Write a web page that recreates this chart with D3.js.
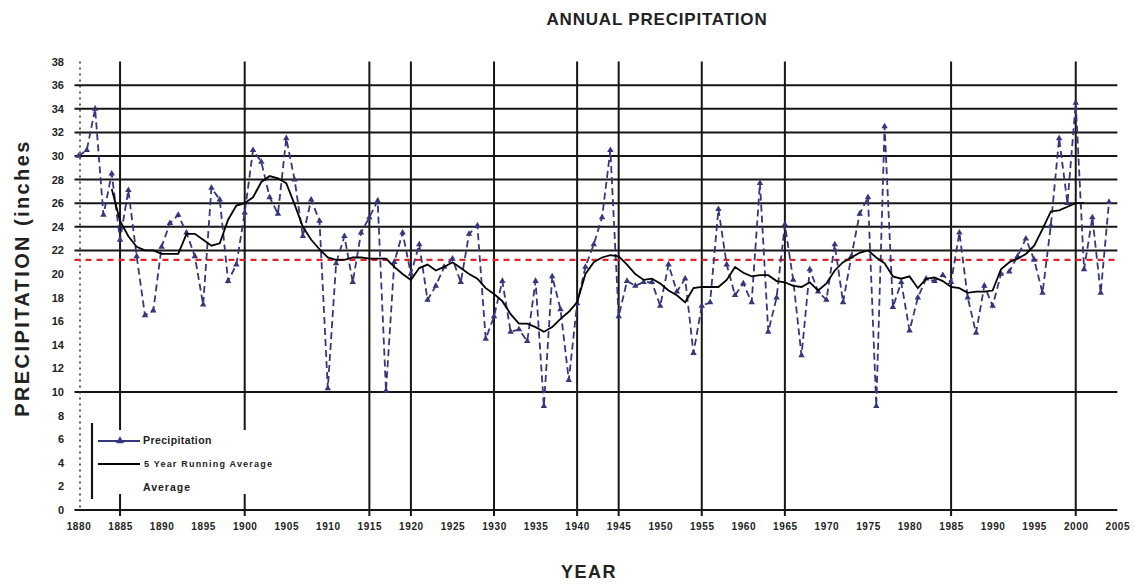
<!DOCTYPE html>
<html>
<head>
<meta charset="utf-8">
<script src="https://cdn.jsdelivr.net/npm/d3@7"></script>
<style>
  body { margin: 0; background: #fff; }
  svg { display: block; }
  text { font-family: "Liberation Sans", Arial, sans-serif; }
</style>
</head>
<body>
<svg id="chart" width="1135" height="584"></svg>
<script>
// Annual precipitation, inches, one value per year starting in 1880
const firstYear = 1880;
const precipitation = [
  30.0, 30.5, 34.0, 25.0, 28.5, 22.9, 27.1, 21.5, 16.5, 16.9,   // 1880s
  22.3, 24.3, 25.0, 23.5, 21.5, 17.4, 27.3, 26.3, 19.4, 20.8,   // 1890s
  25.2, 30.5, 29.5, 26.5, 25.1, 31.5, 28.0, 23.2, 26.3, 24.5,   // 1900s
  10.3, 20.9, 23.2, 19.3, 23.5, 24.8, 26.2, 10.1, 21.0, 23.5,   // 1910s
  20.0, 22.5, 17.8, 19.0, 20.6, 21.3, 19.3, 23.4, 24.1, 14.5,   // 1920s
  16.4, 19.4, 15.1, 15.3, 14.3, 19.4, 8.8, 19.8, 17.0, 11.0,    // 1930s
  17.5, 20.6, 22.5, 24.8, 30.5, 16.4, 19.4, 19.0, 19.3, 19.3,   // 1940s
  17.3, 20.8, 18.5, 19.6, 13.3, 17.3, 17.6, 25.5, 20.8, 18.2,   // 1950s
  19.2, 17.6, 27.7, 15.1, 18.0, 24.2, 19.5, 13.1, 20.4, 18.5,   // 1960s
  17.8, 22.5, 17.6, 21.5, 25.1, 26.5, 8.8, 32.5, 17.2, 19.3,    // 1970s
  15.2, 18.0, 19.6, 19.4, 19.9, 19.3, 23.5, 18.0, 15.0, 19.0,   // 1980s
  17.3, 20.0, 20.2, 21.5, 23.0, 21.2, 18.4, 24.1, 31.5, 26.0,   // 1990s
  34.5, 20.4, 24.8, 18.4, 26.1                                  // 2000s
];

// 5 year running average, starting in 1884
const avgStartYear = 1884;
const runningAverage = [
  27.2, 24.5, 23.2, 22.3, 22.0, 22.0,
  21.7, 21.7, 21.7, 23.4, 23.4, 22.9, 22.4, 22.6, 24.6, 25.8,
  26.0, 26.5, 27.8, 28.3, 28.1, 27.7, 25.9, 24.0, 22.9, 22.1,
  21.4, 21.2, 21.2, 21.4, 21.4, 21.3, 21.3, 21.3, 20.6, 20.0,
  19.5, 20.5, 20.8, 20.3, 20.6, 21.0, 20.5, 20.0, 19.6, 18.8,
  18.3, 17.7, 16.6, 15.8, 15.8, 15.5, 15.1, 15.5, 16.2, 16.8,
  17.6, 20.0, 21.0, 21.4, 21.6, 21.5, 20.8, 20.0, 19.5, 19.6,
  19.2, 18.6, 18.2, 17.6, 18.8, 18.9, 18.9, 18.9, 19.5, 20.6,
  20.1, 19.8, 19.9, 19.9, 19.4, 19.3, 19.0, 18.9, 19.3, 18.6,
  19.2, 20.3, 21.0, 21.4, 21.8, 22.0, 21.4, 20.9, 19.8, 19.6,
  19.8, 18.8, 19.6, 19.7, 19.4, 18.9, 18.8, 18.4, 18.5, 18.5,
  18.6, 20.4, 21.0, 21.3, 21.7, 22.4, 23.8, 25.3, 25.4, 25.7,
  26.0, 26.0
];

// Long-term average precipitation, inches
const longTermAverage = 21.2;

// Axis ticks and reference lines
const yTickValues = [0, 2, 4, 6, 8, 10, 12, 14, 16, 18, 20, 22, 24, 26, 28, 30, 32, 34, 36, 38];
const xTickYears = [1880, 1885, 1890, 1895, 1900, 1905, 1910, 1915, 1920, 1925, 1930, 1935, 1940,
                    1945, 1950, 1955, 1960, 1965, 1970, 1975, 1980, 1985, 1990, 1995, 2000, 2005];
const gridYears = [1885, 1900, 1915, 1920, 1930, 1940, 1945, 1955, 1965, 1985, 2000];
const gridValues = [10, 22, 24, 26, 28, 30, 32, 34, 36];

const legendLabels = ["Precipitation", "5 Year Running Average", "Average"];

const precipData = precipitation.map((v, i) => ({ year: firstYear + i, value: v }));
const avgData = runningAverage.map((v, i) => ({ year: avgStartYear + i, value: v }));

const svg = d3.select("#chart");

const x = d3.scaleLinear().domain([1880, 2005]).range([78.5, 1117.3]);
const y = d3.scaleLinear().domain([0, 38]).range([510, 61.6]);

const ink = "#161616";
const navy = "#36367c";

// Horizontal grid lines
svg.append("g").selectAll("line").data(gridValues).join("line")
  .attr("x1", x(1880) - 4).attr("x2", x(2005))
  .attr("y1", d => y(d)).attr("y2", d => y(d))
  .attr("stroke", ink).attr("stroke-width", 2);

// Vertical grid lines, running a little below the axis as ticks
svg.append("g").selectAll("line").data(gridYears).join("line")
  .attr("x1", d => x(d)).attr("x2", d => x(d))
  .attr("y1", y(38)).attr("y2", y(0) + 6)
  .attr("stroke", ink).attr("stroke-width", 2);

// Dotted minor marks beside the value labels
svg.append("line")
  .attr("x1", 80).attr("x2", 80)
  .attr("y1", y(38)).attr("y2", y(0) - 2)
  .attr("stroke", "#333").attr("stroke-width", 1.6)
  .attr("stroke-dasharray", "2,4");

// X axis
const xAxis = d3.axisBottom(x)
  .tickValues(xTickYears)
  .tickFormat(d3.format("d"))
  .tickSize(0)
  .tickPadding(13);
const gx = svg.append("g").attr("transform", `translate(0,${y(0)})`).call(xAxis);
gx.select(".domain").attr("d", `M${x(1880) - 4},0H${x(2005)}`)
  .attr("stroke", ink).attr("stroke-width", 2);
gx.selectAll("text")
  .attr("font-size", 10).attr("font-weight", "bold").attr("fill", "#222")
  .attr("letter-spacing", 0.6)
  .attr("font-family", "'Liberation Sans', Arial, sans-serif");

// Y axis labels
const yAxis = d3.axisLeft(y)
  .tickValues(yTickValues)
  .tickFormat(d3.format("d"))
  .tickSize(0)
  .tickPadding(0);
const gy = svg.append("g").attr("transform", "translate(64,0)").call(yAxis);
gy.select(".domain").remove();
gy.selectAll("text")
  .attr("font-size", 11).attr("font-weight", "bold").attr("fill", "#222")
  .attr("font-family", "'Liberation Sans', Arial, sans-serif");

// Long-term average
svg.append("line")
  .attr("x1", x(1880) - 4).attr("x2", x(2005))
  .attr("y1", y(longTermAverage)).attr("y2", y(longTermAverage))
  .attr("stroke", "#e0242a").attr("stroke-width", 2.2)
  .attr("stroke-dasharray", "6,5");

// Annual precipitation
const precipLine = d3.line().x(d => x(d.year)).y(d => y(d.value));
svg.append("path").datum(precipData)
  .attr("d", precipLine)
  .attr("fill", "none").attr("stroke", navy).attr("stroke-width", 1.8)
  .attr("stroke-dasharray", "7,4");

const tri = d3.symbol().type(d3.symbolTriangle).size(18);
svg.append("g").selectAll("path").data(precipData).join("path")
  .attr("d", tri)
  .attr("transform", d => `translate(${x(d.year)},${y(d.value)})`)
  .attr("fill", navy);

// 5 year running average
const avgLine = d3.line().x(d => x(d.year)).y(d => y(d.value));
svg.append("path").datum(avgData)
  .attr("d", avgLine)
  .attr("fill", "none").attr("stroke", "#000").attr("stroke-width", 1.8);

// Legend
const lg = svg.append("g");
lg.append("rect").attr("x", 93).attr("y", 430).attr("width", 245).attr("height", 64).attr("fill", "#fff");
lg.append("line").attr("x1", 92).attr("x2", 92).attr("y1", 423).attr("y2", 499)
  .attr("stroke", ink).attr("stroke-width", 2.2);
lg.append("line").attr("x1", 98).attr("x2", 140).attr("y1", 441).attr("y2", 441)
  .attr("stroke", navy).attr("stroke-width", 2);
lg.append("path").attr("d", d3.symbol().type(d3.symbolTriangle).size(28))
  .attr("transform", "translate(120,441)").attr("fill", navy);
lg.append("line").attr("x1", 98).attr("x2", 140).attr("y1", 464).attr("y2", 464)
  .attr("stroke", "#000").attr("stroke-width", 1.8);
lg.selectAll("text").data(legendLabels).join("text")
  .attr("x", (d, i) => i === 1 ? 144 : 143)
  .attr("y", (d, i) => [444, 467, 491][i])
  .attr("font-size", (d, i) => [10.5, 9, 10.5][i])
  .attr("font-weight", "bold")
  .attr("letter-spacing", (d, i) => [0.4, 1.2, 1.0][i])
  .attr("fill", "#222")
  .text(d => d);

// Titles
svg.append("text")
  .attr("x", 657).attr("y", 25).attr("text-anchor", "middle")
  .attr("font-size", 17).attr("font-weight", "bold").attr("letter-spacing", 0.8)
  .attr("fill", "#222")
  .text("ANNUAL PRECIPITATION");

svg.append("text")
  .attr("x", 589).attr("y", 578).attr("text-anchor", "middle")
  .attr("font-size", 18).attr("font-weight", "bold").attr("letter-spacing", 1.5)
  .attr("fill", "#222")
  .text("YEAR");

svg.append("text")
  .attr("transform", "translate(29,278) rotate(-90)")
  .attr("text-anchor", "middle")
  .attr("font-size", 20).attr("font-weight", "bold").attr("letter-spacing", 2.4)
  .attr("fill", "#222")
  .text("PRECIPITATION (inches");
</script>
</body>
</html>
